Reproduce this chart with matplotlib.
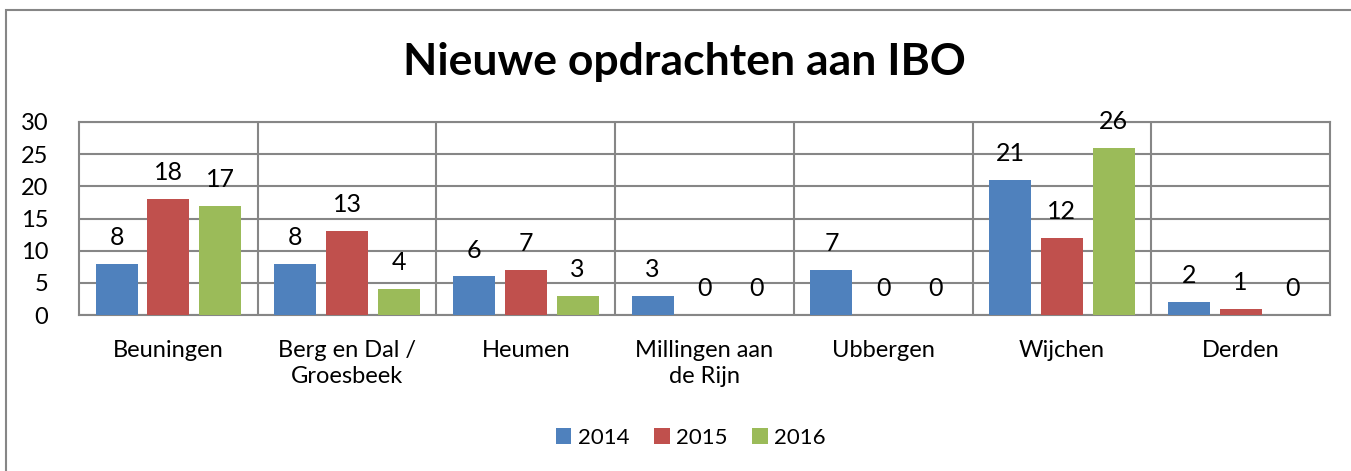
import numpy as np
import matplotlib.pyplot as plt
from matplotlib.patches import Rectangle

# ===== DATA =====
categories = ["Beuningen", "Berg en Dal /\nGroesbeek", "Heumen", "Millingen aan\nde Rijn",
              "Ubbergen", "Wijchen", "Derden"]
years = ["2014", "2015", "2016"]
v2014 = [8, 8, 6, 3, 7, 21, 2]
v2015 = [18, 13, 7, 0, 0, 12, 1]
v2016 = [17, 4, 3, 0, 0, 26, 0]

colors = ["#4f81bd", "#c0504d", "#9bbb59"]
grid_col = "#868686"

plt.rcParams['font.family'] = ['Lato', 'DejaVu Sans']

fig = plt.figure(figsize=(13.51, 4.71), dpi=100)
ax = fig.add_axes([79 / 1351, 1 - 315 / 471, (1330 - 79) / 1351, (315 - 122) / 471])

# outer frame (only top and left visible)
fig.add_artist(Rectangle((6 / 1351, -0.5), 2, 1.5 - 10 / 471, transform=fig.transFigure,
                         fill=False, edgecolor=grid_col, linewidth=1.5))

x = np.arange(len(categories))
width = 0.235
offset = 0.29

for i, (vals, col, yr) in enumerate(zip([v2014, v2015, v2016], colors, years)):
    bars = ax.bar(x + (i - 1) * offset, vals, width, color=col, label=yr, zorder=3)
    for b, v in zip(bars, vals):
        ax.annotate(str(v), (b.get_x() + b.get_width() / 2, v), xytext=(0, 19),
                    textcoords="offset points", ha="center", va="center", fontsize=18)

ax.set_xlim(-0.5, len(categories) - 0.5)
ax.set_ylim(0, 30)
ax.set_yticks(range(0, 31, 5))
ax.yaxis.grid(True, color=grid_col, linewidth=1.5, zorder=0)
for sep in np.arange(0.5, len(categories) - 0.5, 1):
    ax.axvline(sep, color=grid_col, linewidth=1.5, zorder=0)
for s in ax.spines.values():
    s.set_color(grid_col)
    s.set_linewidth(1.5)

ax.set_xticks(x)
ax.set_xticklabels(categories, fontsize=17, linespacing=1.3)
ax.tick_params(axis="x", length=0, pad=18)
ax.tick_params(axis="y", length=0, pad=22, labelsize=17)

fig.suptitle("Nieuwe opdrachten aan IBO", fontsize=32, fontweight="bold",
             x=684 / 1351, y=1 - 62 / 471, va="center")

fig.legend(loc="center", bbox_to_anchor=(691 / 1351, 1 - 438 / 471), ncol=3, frameon=False,
           fontsize=16, handlelength=0.7, handleheight=0.7, handletextpad=0.3, columnspacing=1.1)

fig.savefig("out.png", dpi=100)
